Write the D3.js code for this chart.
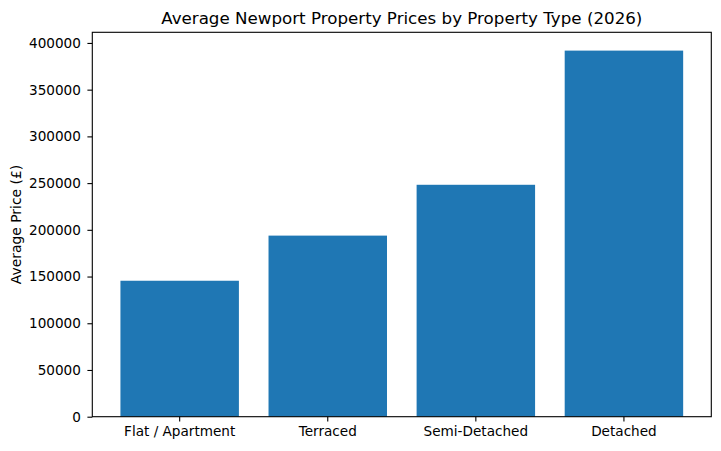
<!DOCTYPE html>
<html>
<head>
<meta charset="utf-8">
<script src="https://cdn.jsdelivr.net/npm/d3@7"></script>
<style>
body{margin:0;background:#fff;}
text{font-family:"DejaVu Sans",sans-serif;fill:#000;}
</style>
</head>
<body>
<div id="chart"></div>
<script>
// data
var types=["Flat / Apartment","Terraced","Semi-Detached","Detached"];
var prices=[145500,193800,248200,391800];
var yTicks=[0,50000,100000,150000,200000,250000,300000,350000,400000];

var W=721,H=451;
var mLeft=92.3,mRight=711.3,mTop=32.3,mBottom=416.7;

var svg=d3.select("#chart")
	.append("svg")
	.attr("width",W)
	.attr("height",H);

var x=d3.scaleBand()
	.domain(types)
	.range([mLeft,mRight])
	.paddingInner(0.2)
	.paddingOuter(0.19);

var ymax=d3.max(prices)*1.05;
var y=d3.scaleLinear()
	.domain([0,ymax])
	.range([mBottom,mTop]);

svg.selectAll("rect.bar")
	.data(prices)
	.enter()
	.append("rect")
	.attr("class","bar")
	.attr("x",function(d,i){return x(types[i]);})
	.attr("y",function(d){return y(d);})
	.attr("width",x.bandwidth())
	.attr("height",function(d){return mBottom-y(d);})
	.attr("fill","#1f77b4");

// axes
var yAxis=d3.axisLeft(y)
	.tickValues(yTicks)
	.tickFormat(d3.format("d"))
	.tickSize(4.9)
	.tickPadding(6.5);
var gy=svg.append("g")
	.attr("transform","translate("+mLeft+",0)")
	.call(yAxis);

var xAxis=d3.axisBottom(x)
	.tickSize(4.9)
	.tickPadding(4.9);
var gx=svg.append("g")
	.attr("transform","translate(0,"+mBottom+")")
	.call(xAxis);

[gx,gy].forEach(function(g){
	g.select(".domain").remove();
	g.selectAll(".tick line").attr("stroke","#000").attr("stroke-width",1.1);
	g.selectAll(".tick text")
	 .attr("font-size","13.6px")
	 .attr("font-family","DejaVu Sans")
	 .attr("fill","#000");
});

// frame
svg.append("rect")
	.attr("x",mLeft)
	.attr("y",mTop)
	.attr("width",mRight-mLeft)
	.attr("height",mBottom-mTop)
	.attr("fill","none")
	.attr("stroke","#000")
	.attr("stroke-width",1.1);

svg.append("text")
	.attr("x",(mLeft+mRight)/2)
	.attr("y",mTop-8)
	.attr("text-anchor","middle")
	.attr("font-size","16.7px")
	.text("Average Newport Property Prices by Property Type (2026)");

svg.append("text")
	.attr("transform","translate(21,"+((mTop+mBottom)/2)+") rotate(-90)")
	.attr("text-anchor","middle")
	.attr("font-size","13.9px")
	.text("Average Price (£)");
</script>
</body>
</html>
